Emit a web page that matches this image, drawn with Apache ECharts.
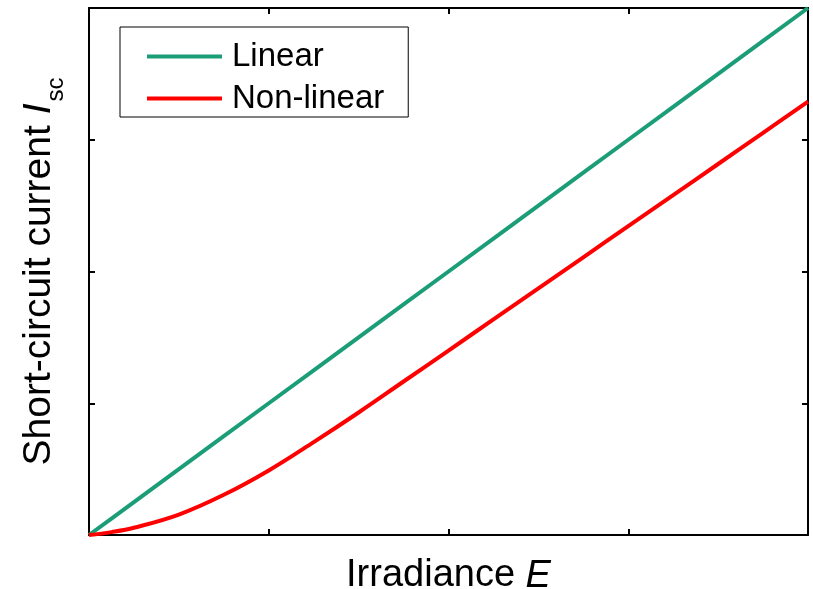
<!DOCTYPE html>
<html>
<head>
<meta charset="utf-8">
<script src="https://cdn.jsdelivr.net/npm/echarts@6/dist/echarts.min.js"></script>
<style>
html,body{margin:0;padding:0;background:#fff;}
#main{width:813px;height:589px;}
</style>
</head>
<body>
<div id="main"></div>
<script>
// irradiance E (arbitrary units)
var irradiance = [0, 0.125, 0.25, 0.5, 0.75, 1.0, 1.25, 1.5, 1.75, 2.0, 2.25, 2.5, 2.75, 3.0, 3.25, 3.5, 3.75, 4.0];
// short-circuit current, linear model
var linearIsc = [0, 0.125, 0.25, 0.5, 0.75, 1.0, 1.25, 1.5, 1.75, 2.0, 2.25, 2.5, 2.75, 3.0, 3.25, 3.5, 3.75, 4.0];
// short-circuit current, non-linear model
var nonlinearIsc = [0, 0.022, 0.055, 0.155, 0.305, 0.49, 0.705, 0.93, 1.165, 1.40, 1.636, 1.872, 2.108, 2.344, 2.58, 2.816, 3.052, 3.29];
var seriesNames = ['Linear', 'Non-linear'];
var seriesColors = ['#1b9e77', '#ff0000'];

function pairs(xs, ys){
    var out = [];
    for(var i=0;i<xs.length;i++){
        out.push([xs[i], ys[i]]);
    }
    return out;
}

var chart = echarts.init(document.getElementById('main'));
var axisCommon = {
    type:'value',
    min:0,
    max:4,
    interval:1,
    axisLine:{show:true, onZero:false, lineStyle:{color:'#000', width:2}},
    axisTick:{show:true, inside:true, length:6, lineStyle:{color:'#000', width:2}},
    axisLabel:{show:false},
    splitLine:{show:false}
};
var fontFam = '"Liberation Sans", Arial, sans-serif';

var option = {
    animation:false,
    backgroundColor:'#fff',
    grid:{left:89, right:5, top:8, bottom:54, containLabel:false, outerBoundsMode:'none'},
    legend:{
        orient:'vertical',
        left:120,
        top:27,
        padding:[13, 24, 2, 27],
        itemGap:9,
        itemWidth:75,
        itemHeight:4,
        icon:'rect',
        borderColor:'#000',
        borderWidth:1,
        textStyle:{fontSize:33, lineHeight:33, color:'#000', fontFamily:fontFam, padding:[0,0,0,5]},
        data:seriesNames
    },
    xAxis:[
        Object.assign({}, axisCommon, {
            position:'bottom',
            name:'Irradiance {i|E}',
            nameLocation:'middle',
            nameGap:22,
            nameTextStyle:{
                fontSize:38, color:'#000', fontFamily:fontFam,
                rich:{i:{fontSize:38, fontStyle:'italic', color:'#000', fontFamily:fontFam}}
            }
        }),
        Object.assign({}, axisCommon, {position:'top'})
    ],
    yAxis:[
        Object.assign({}, axisCommon, {
            position:'left',
            name:'Short-circuit current {i|I}{s|sc}',
            nameLocation:'middle',
            nameRotate:90,
            nameGap:21,
            nameTextStyle:{
                fontSize:39, color:'#000', fontFamily:fontFam,
                rich:{
                    i:{fontSize:39, fontStyle:'italic', color:'#000', fontFamily:fontFam},
                    s:{fontSize:24, color:'#000', fontFamily:fontFam, verticalAlign:'bottom', padding:[34,0,0,2]}
                }
            }
        }),
        Object.assign({}, axisCommon, {position:'right'})
    ],
    series:[
        {
            name:seriesNames[0],
            type:'line',
            symbol:'none',
            lineStyle:{color:seriesColors[0], width:4},
            itemStyle:{color:seriesColors[0]},
            data:pairs(irradiance, linearIsc)
        },
        {
            name:seriesNames[1],
            type:'line',
            symbol:'none',
            smooth:0.4,
            lineStyle:{color:seriesColors[1], width:4},
            itemStyle:{color:seriesColors[1]},
            data:pairs(irradiance, nonlinearIsc)
        }
    ]
};
chart.setOption(option);
</script>
</body>
</html>
